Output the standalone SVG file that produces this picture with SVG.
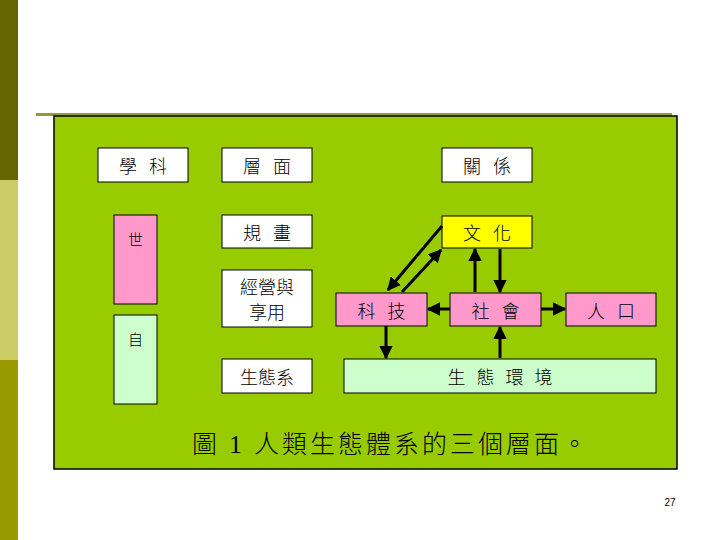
<svg xmlns="http://www.w3.org/2000/svg" width="720" height="540" viewBox="0 0 720 540">
<style>
.box{stroke:#000;stroke-width:1}
.w{fill:#fff}.y{fill:#ffff00}.p{fill:#ff99cc}.g{fill:#ccffcc}
.t{font-family:"Noto Sans CJK TC","Noto Sans CJK SC",sans-serif;font-size:18px;font-weight:300;fill:#000;text-anchor:middle;dominant-baseline:central}
.s{letter-spacing:12px}
.cap{font-family:"Liberation Serif","Noto Sans CJK TC",serif;font-size:25px;font-weight:300;fill:#000;letter-spacing:3px}
.arr{stroke:#000;stroke-width:3;fill:none;marker-end:url(#ah)}
</style>
<defs>
<marker id="ah" viewBox="0 0 10 10" refX="9" refY="5" markerWidth="4.5" markerHeight="4.5" orient="auto" markerUnits="strokeWidth">
<path d="M0,0 L10,5 L0,10 Z" fill="#000"/>
</marker>
</defs>
<rect x="0" y="0" width="720" height="540" fill="#fff"/>
<rect x="0" y="0" width="18" height="180" fill="#666600"/>
<rect x="0" y="180" width="18" height="180" fill="#cccc66"/>
<rect x="0" y="360" width="18" height="180" fill="#999900"/>
<rect x="36" y="113" width="636" height="3" fill="#999933"/>
<rect x="54" y="116" width="623" height="353" fill="#99cc00" stroke="#000" stroke-width="1.5"/>

<g id="n-xueke"><rect class="box w" x="98" y="148" width="90" height="34"/><text class="t s" x="149" y="165">學科</text></g>
<g id="n-cengmian"><rect class="box w" x="222" y="148" width="90" height="34"/><text class="t s" x="273" y="165">層面</text></g>
<g id="n-guanxi"><rect class="box w" x="442" y="148" width="90" height="34"/><text class="t s" x="493" y="165">關係</text></g>
<g id="n-wenhua"><rect class="box y" x="442" y="216" width="90" height="32"/><text class="t s" x="493" y="232">文化</text></g>
<g id="n-guihua"><rect class="box w" x="222" y="215" width="90" height="33"/><text class="t s" x="273" y="231.5">規畫</text></g>
<g id="n-pink"><rect class="box p" x="114" y="215" width="43" height="89"/><text class="t" x="135.5" y="238" style="font-size:15px">世</text></g>
<g id="n-green"><rect class="box g" x="114" y="315" width="43" height="89"/><text class="t" x="135.5" y="338" style="font-size:15px">自</text></g>
<g id="n-jingying"><rect class="box w" x="222" y="270" width="90" height="57"/><text class="t" x="267" y="286">經營與</text><text class="t" x="267" y="311">享用</text></g>
<g id="n-shengtaixi"><rect class="box w" x="222" y="359" width="90" height="34"/><text class="t" x="267" y="376">生態系</text></g>
<g id="n-keji"><rect class="box p" x="336" y="293" width="91" height="33"/><text class="t s" x="387.5" y="309.5">科技</text></g>
<g id="n-shehui"><rect class="box p" x="450" y="293" width="91" height="33"/><text class="t s" x="501.5" y="309.5">社會</text></g>
<g id="n-renkou"><rect class="box p" x="566" y="293" width="90" height="33"/><text class="t s" x="617" y="309.5">人口</text></g>
<g id="n-huanjing"><rect class="box g" x="344" y="359" width="312" height="34"/><text class="t" x="505.5" y="376" style="letter-spacing:11px">生態環境</text></g>

<g id="connectors">
<line class="arr" x1="442" y1="226" x2="388" y2="290"/>
<line class="arr" x1="402" y1="292" x2="441" y2="250"/>
<line class="arr" x1="475" y1="292" x2="475" y2="249"/>
<line class="arr" x1="500" y1="249" x2="500" y2="292"/>
<line class="arr" x1="450" y1="309" x2="428" y2="309"/>
<line class="arr" x1="541" y1="309" x2="565" y2="309"/>
<line class="arr" x1="386" y1="326" x2="386" y2="358"/>
<line class="arr" x1="500" y1="358" x2="500" y2="327"/>
</g>

<text class="cap" x="192" y="453">圖 1 人類生態體系的三個層面。</text>
<text x="670" y="506" style="font-family:'Liberation Sans',sans-serif;font-size:10px;fill:#000" text-anchor="middle">27</text>
</svg>
